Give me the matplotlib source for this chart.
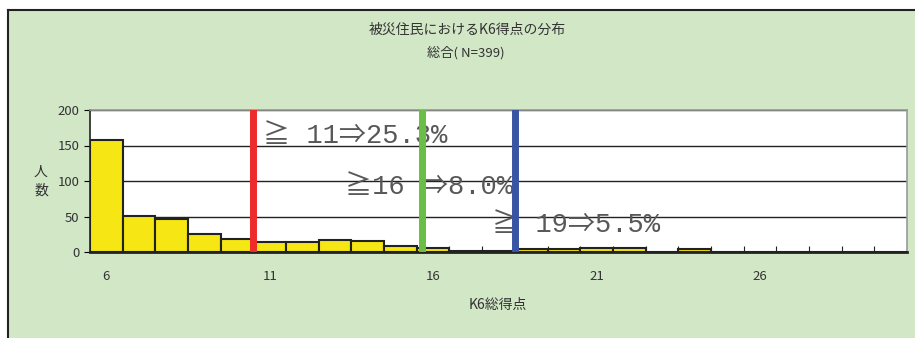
import matplotlib.pyplot as plt
from matplotlib.patches import Rectangle
from matplotlib.lines import Line2D

plt.rcParams['font.family'] = ['Noto Sans CJK JP', 'DejaVu Sans']

# K6 総得点ごとの人数 (N=399)
scores = list(range(6, 31))
counts = [158, 51, 46, 25, 18, 14, 14, 17, 15, 9, 6, 2, 2, 4, 4, 5, 5, 0, 4, 0, 0, 0, 0, 0, 0]

# カットオフ線
cutoffs = [10.5, 15.65, 18.5]
cutoff_colors = ['#ee2a2a', '#6abd45', '#3a54a4']
cutoff_labels = ['≧ 11⇒25.3%', '≧16 ⇒8.0%', '≧ 19⇒5.5%']
label_pos = [(10.8, 164), (13.3, 92), (17.8, 38)]

xticks = [6, 11, 16, 21, 26]
yticks = [0, 50, 100, 150, 200]

bg = '#d1e7c6'
W, H = 915, 338

fig = plt.figure(figsize=(W / 100, H / 100), dpi=100)
fig.patch.set_facecolor('white')

# 背景の枠
fig.patches.append(Rectangle((8 / W, 0), 1, 1 - 10 / H, transform=fig.transFigure,
                             facecolor=bg, edgecolor='none', zorder=-10))
fig.lines.append(Line2D([8 / W, 1], [1 - 10 / H, 1 - 10 / H], transform=fig.transFigure,
                        color='#222222', lw=1.5, zorder=-5))
fig.lines.append(Line2D([8 / W, 8 / W], [0, 1 - 10 / H], transform=fig.transFigure,
                        color='#222222', lw=1.5, zorder=-5))

ax = fig.add_axes([90 / W, 86 / H, 817 / W, 142 / H])
ax.set_facecolor('white')

ax.bar(scores, counts, width=1.0, color='#f5e614', edgecolor='#222222', linewidth=1.5, zorder=3)

for x, c in zip(cutoffs, cutoff_colors):
    ax.axvline(x, color=c, lw=5, zorder=5)

# 等幅の数字で注記を描く
for (x, y), t in zip(label_pos, cutoff_labels):
    ax.text(x, y, t, fontsize=19.5, color='#585858', va='center', ha='left', zorder=4,
            family=['Liberation Mono', 'Noto Sans CJK JP'])

ax.set_xlim(5.5, 30.5)
ax.set_ylim(0, 200)
ax.set_yticks(yticks)
ax.set_xticks(xticks)
ax.set_xticks([s + 0.5 for s in scores[:-1]], minor=True)
ax.tick_params(axis='x', which='major', length=0, pad=13, labelsize=9.5, labelcolor='#333333')
ax.tick_params(axis='x', which='minor', direction='in', length=4, width=0.8, color='#222222')
ax.tick_params(axis='y', direction='out', length=4, width=0.8, labelsize=9.5, labelcolor='#333333')

ax.grid(axis='y', color='#222222', lw=1, zorder=1)
ax.set_axisbelow(True)
for side in ['top', 'right']:
    ax.spines[side].set_color('#999999')
    ax.spines[side].set_linewidth(1.2)
ax.spines['left'].set_color('#222222')
ax.spines['left'].set_linewidth(1.2)
ax.spines['bottom'].set_color('#222222')
ax.spines['bottom'].set_linewidth(2)

fig.text(467 / W, 1 - 30 / H, '被災住民におけるK6得点の分布', ha='center', va='center',
         fontsize=10, color='#333333')
fig.text(466 / W, 1 - 53 / H, '総合( N=399)', ha='center', va='center',
         fontsize=9.5, color='#333333')
fig.text(41 / W, 1 - 181 / H, '人\n数', ha='center', va='center', fontsize=10,
         color='#333333', linespacing=1.4)
fig.text(498 / W, 1 - 305 / H, 'K6総得点', ha='center', va='center', fontsize=10,
         color='#333333')

fig.savefig('out.png', dpi=100, facecolor=fig.get_facecolor())
